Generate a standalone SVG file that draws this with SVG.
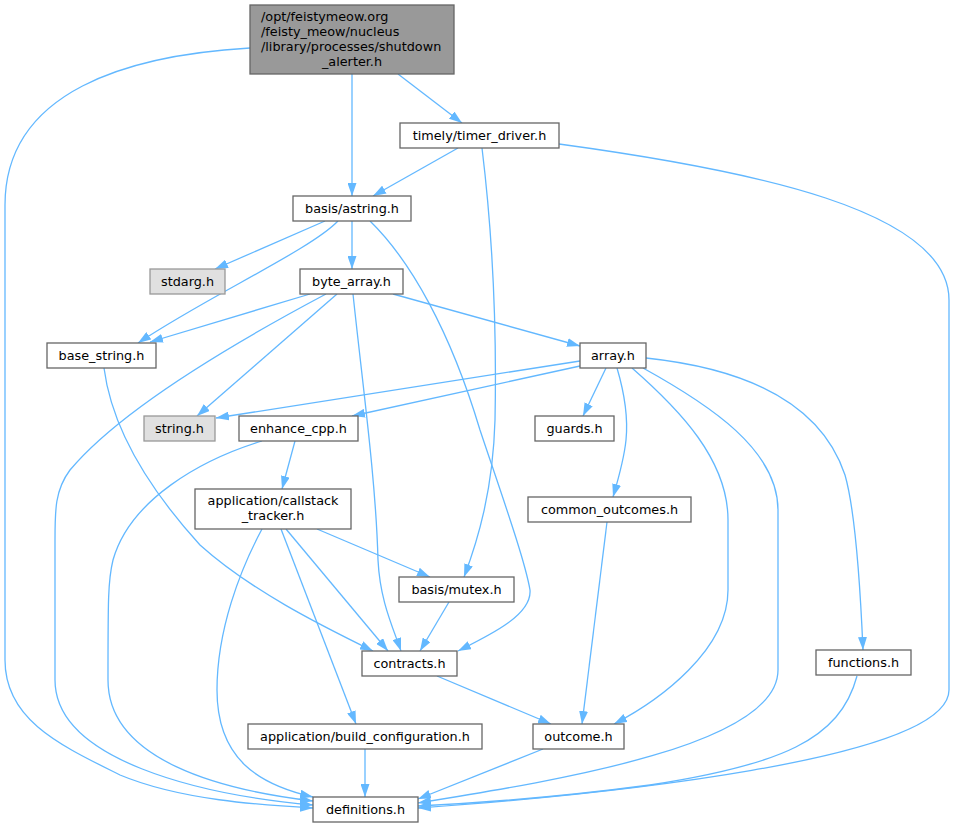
<svg xmlns="http://www.w3.org/2000/svg" width="955" height="828" viewBox="0 0 955 828">
<style>
.n rect{fill:#ffffff;stroke:#666666;stroke-width:1.3}
.n.g rect{fill:#e0e0e0;stroke:#999999}
.n.root rect{fill:#999999;stroke:#666666}
.n text{font-family:"DejaVu Sans",sans-serif;font-size:12.8px;fill:#000000;text-anchor:middle}
.n text.l{text-anchor:start}
#edges path{fill:none;stroke:#63b8ff;stroke-width:1.3;marker-end:url(#ah)}
</style>
<defs>
<marker id="ah" viewBox="0 0 13 9" refX="13" refY="4.5" markerWidth="13" markerHeight="9" markerUnits="userSpaceOnUse" orient="auto">
<path d="M0,0 L13,4.5 L0,9 z" fill="#63b8ff"/>
</marker>
</defs>
<rect width="955" height="828" fill="#ffffff"/>
<g id="edges">
<path d="M250,48 C130,55 5,90 5,205 L5,660 C5,720 60,745 120,775 C180,800 260,805 313,808"/>
<path d="M352,74 L352,196"/>
<path d="M398,74 L462,123"/>
<path d="M458,148 L373,196"/>
<path d="M482,148 C492,230 497,320 495,420 C493,490 478,540 464,577"/>
<path d="M559,144 C750,170 949,210 949,300 L949,690 C949,760 600,795 418,808"/>
<path d="M325,221 L215,269"/>
<path d="M352,221 L352,269"/>
<path d="M338,221 C310,250 210,295 138,343"/>
<path d="M370,221 C410,260 450,330 480,430 C500,490 525,560 530,590 C532,615 490,635 458,651"/>
<path d="M310,294 L150,342"/>
<path d="M337,294 L197,416"/>
<path d="M326,294 C230,345 120,410 70,470 C55,490 55,510 55,540 L55,680 C55,760 200,795 313,805"/>
<path d="M353,294 C362,380 376,480 378,560 C380,600 392,625 401,651"/>
<path d="M393,294 L580,346"/>
<path d="M104,368 C112,430 150,490 200,545 C250,590 320,625 373,651"/>
<path d="M580,361 L216,418"/>
<path d="M580,366 L352,416"/>
<path d="M606,368 L583,416"/>
<path d="M617,368 C625,395 628,420 626,440 C624,460 618,480 613,497"/>
<path d="M632,368 C680,410 728,460 728,520 L728,590 C728,650 660,700 614,724"/>
<path d="M643,368 C710,405 778,450 778,510 L778,670 C778,745 560,780 418,803"/>
<path d="M646,358 C740,368 820,400 845,475 C855,510 860,580 863,650"/>
<path d="M295,441 L282,489"/>
<path d="M262,441 C200,460 130,500 113,560 C108,580 108,600 108,680 C108,760 220,790 313,801"/>
<path d="M317,529 L430,577"/>
<path d="M286,529 L388,651"/>
<path d="M281,529 L356,724"/>
<path d="M262,529 C240,570 217,630 217,690 C217,760 260,785 313,797"/>
<path d="M449,602 L420,651"/>
<path d="M437,676 L551,724"/>
<path d="M607,522 L582,724"/>
<path d="M365,749 L365,797"/>
<path d="M543,749 L418,799"/>
<path d="M857,676 C840,740 780,765 650,785 C560,797 480,803 418,806"/>
</g>
<g id="node_root" class="n root"><rect x="250" y="5" width="204" height="69"/>
<text class="l" x="261" y="21">/opt/feistymeow.org</text>
<text class="l" x="261" y="36">/feisty_meow/nucleus</text>
<text class="l" x="261" y="51">/library/processes/shutdown</text>
<text x="352" y="66">_alerter.h</text></g>
<g id="node_timer_driver" class="n"><rect x="400" y="123" width="159" height="25"/><text x="479.5" y="140">timely/timer_driver.h</text></g>
<g id="node_astring" class="n"><rect x="293" y="196" width="118" height="25"/><text x="352" y="213">basis/astring.h</text></g>
<g id="node_stdarg" class="n g"><rect x="150" y="269" width="75" height="25"/><text x="187.5" y="286">stdarg.h</text></g>
<g id="node_byte_array" class="n"><rect x="300" y="269" width="103" height="25"/><text x="351.5" y="286">byte_array.h</text></g>
<g id="node_base_string" class="n"><rect x="47" y="343" width="109" height="25"/><text x="101.5" y="360">base_string.h</text></g>
<g id="node_array" class="n"><rect x="580" y="343" width="66" height="25"/><text x="613" y="360">array.h</text></g>
<g id="node_string" class="n g"><rect x="144" y="416" width="71" height="25"/><text x="179.5" y="433">string.h</text></g>
<g id="node_enhance_cpp" class="n"><rect x="239" y="416" width="119" height="25"/><text x="298.5" y="433">enhance_cpp.h</text></g>
<g id="node_guards" class="n"><rect x="535" y="416" width="79" height="25"/><text x="574.5" y="433">guards.h</text></g>
<g id="node_callstack" class="n"><rect x="195" y="489" width="156" height="40"/><text x="273" y="505">application/callstack</text><text x="273" y="520">_tracker.h</text></g>
<g id="node_common_outcomes" class="n"><rect x="528" y="497" width="163" height="25"/><text x="609.5" y="514">common_outcomes.h</text></g>
<g id="node_mutex" class="n"><rect x="399" y="577" width="115" height="25"/><text x="456.5" y="594">basis/mutex.h</text></g>
<g id="node_contracts" class="n"><rect x="362" y="651" width="95" height="25"/><text x="409.5" y="668">contracts.h</text></g>
<g id="node_functions" class="n"><rect x="816" y="650" width="95" height="25"/><text x="863.5" y="667">functions.h</text></g>
<g id="node_build_configuration" class="n"><rect x="248" y="724" width="234" height="25"/><text x="365" y="741">application/build_configuration.h</text></g>
<g id="node_outcome" class="n"><rect x="533" y="724" width="91" height="25"/><text x="578.5" y="741">outcome.h</text></g>
<g id="node_definitions" class="n"><rect x="313" y="797" width="105" height="25"/><text x="365.5" y="814">definitions.h</text></g>
</svg>
